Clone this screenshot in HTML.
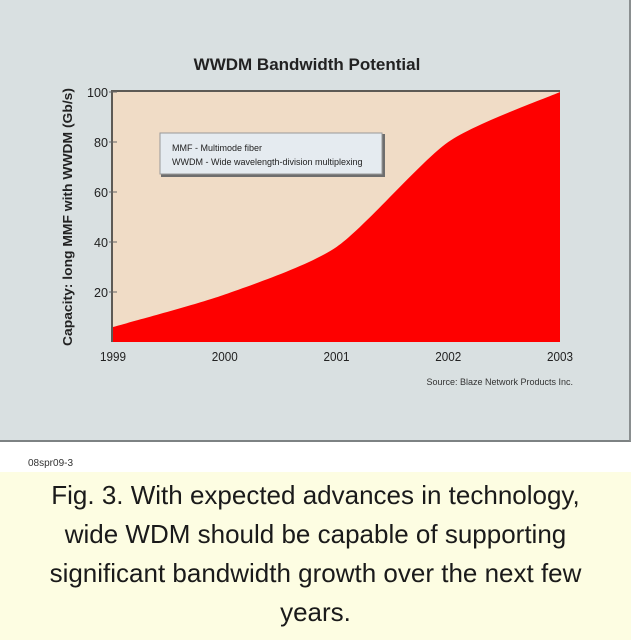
<!DOCTYPE html>
<html><head><meta charset="utf-8"><style>
html,body{margin:0;padding:0;width:631px;height:640px;overflow:hidden;background:#fff;font-family:"Liberation Sans",sans-serif}
#panel{position:absolute;left:0;top:0;width:629px;height:440px;background:#d9e0e1;border-right:2px solid #8a8f90;border-bottom:2px solid #7d8283}
#cap{position:absolute;left:0;top:472px;width:631px;height:168px;background:#fdfde2}
.cl{position:absolute;left:0;width:631px;text-align:center;font-size:26px;color:#1a1a1a}
</style></head><body>
<div id="panel"></div>
<div id="cap"></div>
<div style="position:absolute;left:28px;top:458px;font-size:10px;color:#333;font-family:'Liberation Sans Narrow','Liberation Sans',sans-serif">08spr09-3</div>
<div>
<div class="cl" style="top:480px">Fig. 3. With expected advances in technology,</div>
<div class="cl" style="top:519px">wide WDM should be capable of supporting</div>
<div class="cl" style="top:558px">significant bandwidth growth over the next few</div>
<div class="cl" style="top:597px">years.</div>
</div>
<svg id="chart" width="631" height="440" style="position:absolute;left:0;top:0"></svg>
<script>
const years=["1999","2000","2001","2002","2003"];
const capacity=[6,19,38,80,100];
const yTicks=[20,40,60,80,100];
const NS="http://www.w3.org/2000/svg";
const svg=document.getElementById('chart');
const L=113,R=560,T=92,B=342;
const x=i=>L+(R-L)*i/(years.length-1);
const y=v=>B-(B-T)*v/100;
function el(t,a,p){const e=document.createElementNS(NS,t);for(const k in a)e.setAttribute(k,a[k]);(p||svg).appendChild(e);return e;}
const title=el('text',{x:307,y:70,'text-anchor':'middle','font-size':17,'font-weight':'bold',fill:'#222','font-family':'Liberation Sans Narrow, Liberation Sans, sans-serif'});
title.textContent='WWDM Bandwidth Potential';


const shadow=el('rect',{x:L-2,y:T-2,width:R-L+2,height:B-T+2,fill:'#5d5a55'});


const bg=el('rect',{x:L,y:T,width:R-L,height:B-T,fill:'#f0dcc6'});


const pts=capacity.map((v,i)=>[x(i),y(v)]);
let d=`M${pts[0][0]},${B} L${pts[0][0]},${pts[0][1]}`;
for(let i=0;i<pts.length-1;i++){
 const p0=pts[Math.max(0,i-1)],p1=pts[i],p2=pts[i+1],p3=pts[Math.min(pts.length-1,i+2)];
 const t=0.12;
 d+=` C${p1[0]+(p2[0]-p0[0])*t},${p1[1]+(p2[1]-p0[1])*t} ${p2[0]-(p3[0]-p1[0])*t},${p2[1]-(p3[1]-p1[1])*t} ${p2[0]},${p2[1]}`;
}
d+=` L${pts[pts.length-1][0]},${B} Z`;
const area=el('path',{d:d,fill:'#fe0000'});


const fnt='Liberation Sans Narrow, Liberation Sans, sans-serif';
yTicks.forEach(v=>{
 const tk=el('line',{x1:L-4,x2:L+4,y1:y(v),y2:y(v),stroke:'#666','stroke-width':1});
 
 
 const t=el('text',{x:L-5,y:y(v)+5,'text-anchor':'end','font-size':13,fill:'#222','font-family':fnt,'textLength':String(v).length*7,'lengthAdjust':'spacingAndGlyphs'});
 t.textContent=v;
 
 
});
years.forEach((yr,i)=>{
 const t=el('text',{x:x(i),y:B+19,'text-anchor':'middle','font-size':13,fill:'#222','font-family':fnt,'textLength':26,'lengthAdjust':'spacingAndGlyphs'});
 t.textContent=yr;
 
 
});
const yt=el('text',{x:0,y:0,'text-anchor':'middle','font-size':13,'font-weight':'bold',fill:'#222','font-family':fnt,transform:'translate(72,217) rotate(-90)','textLength':258,'lengthAdjust':'spacingAndGlyphs'});
yt.textContent='Capacity: long MMF with WWDM (Gb/s)';


const src=el('text',{x:573,y:385,'text-anchor':'end','font-size':9,fill:'#333','font-family':fnt});
src.textContent='Source: Blaze Network Products Inc.';


const lg=el('g',{});


el('rect',{x:161,y:134,width:224,height:43,fill:'#6e6e6e'},lg);
el('rect',{x:160,y:133,width:222,height:41,fill:'#e5ebf0',stroke:'#999','stroke-width':1},lg);
const l1=el('text',{x:172,y:151,'font-size':9,fill:'#222','font-family':fnt},lg);
l1.textContent='MMF - Multimode fiber';


const l2=el('text',{x:172,y:165,'font-size':9,fill:'#222','font-family':fnt},lg);
l2.textContent='WWDM - Wide wavelength-division multiplexing';


</script>
</body></html>
